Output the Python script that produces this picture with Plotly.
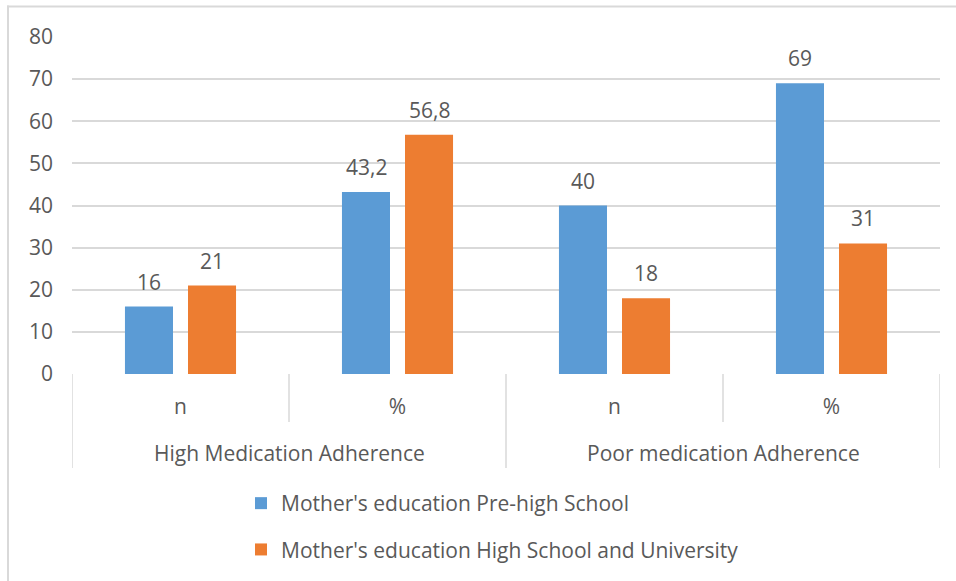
import plotly.graph_objects as go

groups = ["High Medication Adherence", "Poor medication Adherence"]
subcats = ["n", "%", "n", "%"]
group_of = [0, 0, 1, 1]
series_names = ["Mother's education Pre-high School",
                "Mother's education High School and University"]
pre_high = [16, 43.2, 40, 69]
high_uni = [21, 56.8, 18, 31]
colors = ["#5B9BD5", "#ED7D31"]
y_ticks = [0, 10, 20, 30, 40, 50, 60, 70, 80]

W, H = 956, 581
L, R, T, B = 72, 16, 37, 207
pw, ph = W - L - R, H - T - B
FONT = "Open Sans"
FS = 21
GREY = "#595959"
LINE = "#D9D9D9"

def px_x(x):
    return (x - L) / pw

def px_y(y):
    return (H - B - y) / ph

xs = list(range(len(subcats)))
fig = go.Figure()
for name, vals, col in zip(series_names, [pre_high, high_uni], colors):
    fig.add_trace(go.Bar(x=xs, y=vals, name=name, marker_color=col,
                         marker_line_width=0, legendgroup=name))

# data labels
for k, vals in enumerate([pre_high, high_uni]):
    for i, v in zip(xs, vals):
        fig.add_annotation(x=i, y=v, xref="x", yref="y",
                           text=str(v).replace(".", ","), showarrow=False,
                           xshift=(-31.5 if k == 0 else 31.5), yshift=9,
                           yanchor="bottom",
                           font=dict(family=FONT, size=FS, color=GREY))

# group labels
for g, name in enumerate(groups):
    members = [i for i in xs if group_of[i] == g]
    fig.add_annotation(x=sum(members) / len(members), y=px_y(453), xref="x", yref="paper",
                       text=name, showarrow=False, yanchor="middle",
                       font=dict(family=FONT, size=FS, color=GREY))

# category dividers
shapes = []
for b in [-0.5, 0.5, 1.5, 2.5, 3.5]:
    outer = b in (-0.5, 1.5, 3.5)
    shapes.append(dict(type="line", xref="x", yref="paper", x0=b, x1=b,
                       y0=0, y1=px_y(468 if outer else 422),
                       line=dict(color=LINE, width=1.5)))
# chart frame (top and left edges)
shapes.append(dict(type="line", xref="paper", yref="paper", x0=px_x(7), x1=px_x(960),
                   y0=px_y(6.5), y1=px_y(6.5), line=dict(color=LINE, width=2)))
shapes.append(dict(type="line", xref="paper", yref="paper", x0=px_x(8), x1=px_x(8),
                   y0=px_y(5.5), y1=px_y(590), line=dict(color=LINE, width=2)))

fig.update_layout(
    width=W, height=H,
    margin=dict(l=L, r=R, t=T, b=B, autoexpand=False),
    paper_bgcolor="white", plot_bgcolor="white",
    barmode="group", bargap=0.419, bargroupgap=0.238,
    font=dict(family=FONT, size=FS, color=GREY),
    shapes=shapes,
    showlegend=True,
    legend=dict(x=px_x(241), y=px_y(483), xanchor="left", yanchor="top",
                orientation="v", tracegroupgap=16,
                font=dict(family=FONT, size=FS, color=GREY),
                bgcolor="rgba(0,0,0,0)"),
    xaxis=dict(range=[-0.5, 3.5], tickmode="array", tickvals=xs, ticktext=subcats,
               showgrid=False, zeroline=False, showline=False, ticks="",
               ticklabelstandoff=18, fixedrange=True),
    yaxis=dict(range=[0, 80], tickmode="array", tickvals=y_ticks,
               showgrid=True, gridcolor=LINE, gridwidth=1.5, zeroline=False,
               showline=False, ticks="", ticklabelstandoff=18, fixedrange=True),
)

fig.write_html("out.html")
